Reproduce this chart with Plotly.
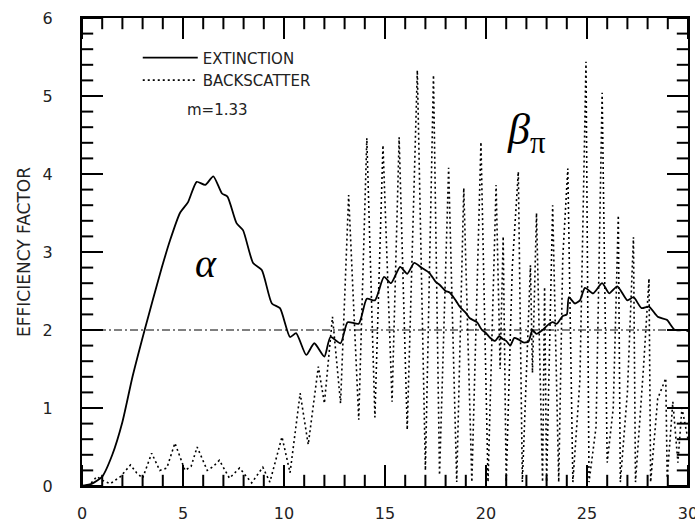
import plotly.graph_objects as go

# ---- data ----
ext_x = [0, 0.5, 1.0, 1.5, 2.0, 2.5, 3.1, 3.5, 3.95, 4.36, 4.85, 5.25, 5.68, 6.1, 6.5,
         6.93, 7.2, 7.65, 7.97, 8.47, 8.9, 9.4, 9.8, 10.3, 10.6, 11.1, 11.5, 12.0, 12.3,
         12.8, 13.15, 13.7, 14.1, 14.5, 14.95, 15.3, 15.75, 16.1, 16.45, 16.8, 17.2, 17.5,
         17.7, 18.0, 18.2, 18.5, 18.7, 19.0, 19.2, 19.55, 19.8, 20.0, 20.2, 20.45, 20.65,
         20.85, 21.0, 21.2, 21.4, 21.6, 21.85, 22.1, 22.3, 22.5, 22.8, 23.0, 23.3, 23.5,
         23.8, 24.0, 24.1, 24.4, 24.65, 24.9, 25.3, 25.75, 26.1, 26.5, 27.0, 27.3, 27.7,
         28.07, 28.5, 28.95, 29.35, 29.9, 30]
ext_y = [0, 0.03, 0.12, 0.4, 0.82, 1.4, 2.0, 2.38, 2.8, 3.15, 3.5, 3.64, 3.9, 3.86, 3.97,
         3.75, 3.71, 3.37, 3.28, 2.86, 2.77, 2.34, 2.28, 1.91, 1.96, 1.68, 1.83, 1.66, 1.91,
         1.83, 2.1, 2.08, 2.4, 2.38, 2.68, 2.6, 2.81, 2.72, 2.86, 2.8, 2.73, 2.62,
         2.58, 2.5, 2.48, 2.38, 2.3, 2.22, 2.15, 2.1, 2.0, 1.96, 1.9, 1.86, 1.92,
         1.88, 1.86, 1.8, 1.9, 1.88, 1.84, 1.85, 2.0, 1.95, 2.0, 2.05, 2.1, 2.08,
         2.18, 2.2, 2.42, 2.34, 2.38, 2.54, 2.47, 2.6, 2.47, 2.56, 2.38, 2.42, 2.28,
         2.3, 2.17, 2.13, 2.0, 2.0, 1.98]

bs_x = [0, 0.4, 0.73, 1.1, 1.4, 1.9, 2.4, 2.7, 3.0, 3.45, 3.85, 4.2, 4.6, 5.1, 5.4, 5.7,
        6.2, 6.5, 6.8, 7.3, 7.8, 8.4, 8.95, 9.3, 9.9, 10.3, 10.8, 11.2, 11.7, 12.0, 12.4,
        12.8, 13.2, 13.7, 14.1, 14.5, 14.9, 15.35, 15.7, 16.1, 16.6, 17.0, 17.4, 17.7,
        18.15, 18.55, 18.9, 19.3, 19.75, 20.1, 20.5, 20.7, 20.85, 21.0, 21.3, 21.6, 21.8,
        22.2, 22.3, 22.5, 22.8, 22.9, 23.0, 23.3, 23.6, 23.8, 24.05, 24.3, 24.65, 24.95,
        25.1, 25.45, 25.75, 26.0, 26.3, 26.55, 26.65, 27.0, 27.3, 27.4, 27.8, 28.07, 28.15,
        28.5, 28.9, 28.97, 29.25, 29.5, 29.7, 30]
bs_y = [0, 0.02, 0.12, 0.06, 0.03, 0.12, 0.27, 0.17, 0.1, 0.42, 0.2, 0.23, 0.55, 0.2, 0.25, 0.5,
        0.2, 0.25, 0.33, 0.1, 0.23, 0.04, 0.24, 0.05, 0.63, 0.17, 1.19, 0.53, 1.53, 1.06, 2.17,
        1.06, 3.73, 0.85, 4.46, 0.88, 4.37, 1.08, 4.47, 0.72, 5.33, 0.2, 5.27, 0.14,
        4.08, 0.05, 3.82, 0.05, 4.41, 0.05, 3.86, 1.5, 3.2, 0.05, 2.8, 4.03, 0.05,
        2.83, 1.45, 3.5, 0.05, 2.55, 0.05, 3.6, 0.05, 2.93, 4.07, 0.05, 1.36, 5.44,
        0.05, 0.76, 5.04, 0.3, 1.0, 3.47, 0.05, 1.2, 3.19, 0.05, 1.53, 2.66, 0.05,
        1.12, 1.38, 0.1, 1.08, 0.3, 1.0, 0.6]

ref_x = [0, 30]
ref_y = [2, 2]

x_major = [0, 5, 10, 15, 20, 25, 30]
x_minor = [v for v in range(0, 31) if v % 5 != 0]
y_major = [0, 1, 2, 3, 4, 5, 6]
y_minor = [round(i * 0.2, 1) for i in range(0, 31) if i % 5 != 0]

FONT = "DejaVu Sans"
INK = "black"
W, H = 695, 525
ML, MR, MT, MB = 82, 7, 18, 39
X0, X1, Y0, Y1 = 0, 30, 0, 6
MAJ, MIN = 15, 8  # tick lengths in pixels

fig = go.Figure()

# tick marks as clipped line markers centred on the frame: only the inner half shows
for vals, ln in ((x_major, MAJ), (x_minor, MIN)):
    for edge in (Y0, Y1):
        fig.add_trace(go.Scatter(x=vals, y=[edge] * len(vals), mode="markers",
                                 showlegend=False, hoverinfo="skip",
                                 marker=dict(symbol="line-ns", size=2 * ln, color=INK,
                                             line=dict(width=2, color=INK))))
for vals, ln in ((y_major, MAJ), (y_minor, MIN)):
    for edge in (X0, X1):
        fig.add_trace(go.Scatter(x=[edge] * len(vals), y=vals, mode="markers",
                                 showlegend=False, hoverinfo="skip",
                                 marker=dict(symbol="line-ew", size=2 * ln, color=INK,
                                             line=dict(width=2, color=INK))))

fig.add_trace(go.Scatter(x=ref_x, y=ref_y, mode="lines", showlegend=False,
                         line=dict(color=INK, width=1, dash="8px,3px,2px,3px"),
                         hoverinfo="skip"))
fig.add_trace(go.Scatter(x=bs_x, y=bs_y, mode="lines", name="BACKSCATTER",
                         line=dict(color=INK, width=1.6, dash="2px,3px")))
fig.add_trace(go.Scatter(x=ext_x, y=ext_y, mode="lines", name="EXTINCTION",
                         line=dict(color=INK, width=1.8, shape="spline", smoothing=0.6)))

fig.update_layout(
    width=W, height=H,
    margin=dict(l=ML, r=MR, t=MT, b=MB, autoexpand=False),
    paper_bgcolor="white", plot_bgcolor="white",
    font=dict(family=FONT, color="#222222"),
    showlegend=True,
    legend=dict(x=0.092, y=0.95, xanchor="left", yanchor="top",
                bgcolor="rgba(0,0,0,0)", traceorder="reversed",
                font=dict(size=15, family=FONT), itemwidth=55, tracegroupgap=2),
    annotations=[
        dict(x=0.223, y=0.803, xref="paper", yref="paper", text="m=1.33",
             xanchor="center", yanchor="middle",
             showarrow=False, font=dict(size=15, family=FONT)),
        dict(x=6.15, y=2.85, xref="x", yref="y", text="<i>α</i>", showarrow=False,
             xanchor="center", yanchor="middle",
             font=dict(size=40, family="Liberation Serif", color="black")),
        dict(x=22.0, y=4.53, xref="x", yref="y", text="<i>β</i><sub>π</sub>", showarrow=False,
             xanchor="center", yanchor="middle",
             font=dict(size=44, family="Liberation Serif", color="black")),
    ],
)

fig.update_xaxes(range=[X0, X1], tickmode="array", tickvals=x_major,
                 ticktext=[str(v) for v in x_major],
                 ticks="inside", ticklen=MAJ, tickwidth=2, tickcolor=INK,
                 showline=True, linewidth=2, linecolor=INK, mirror="ticks",
                 showgrid=False, zeroline=False, automargin=False,
                 ticklabeloverflow="allow", ticklabelstandoff=12,
                 tickfont=dict(size=16, family=FONT))
fig.update_yaxes(range=[Y0, Y1], tickmode="array", tickvals=y_major,
                 ticktext=[str(v) for v in y_major],
                 ticks="inside", ticklen=MAJ, tickwidth=2, tickcolor=INK,
                 showline=True, linewidth=2, linecolor=INK, mirror="ticks",
                 showgrid=False, zeroline=False, automargin=False,
                 tickfont=dict(size=16, family=FONT), ticklabelstandoff=24,
                 title=dict(text="EFFICIENCY FACTOR", font=dict(size=17, family=FONT), standoff=8))

fig.write_html("out.html")
